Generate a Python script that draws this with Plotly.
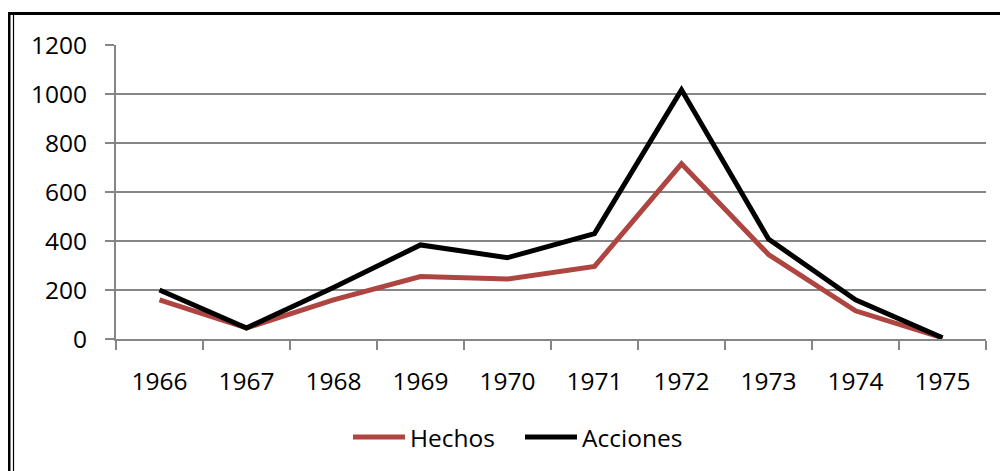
import plotly.graph_objects as go

years = ["1966", "1967", "1968", "1969", "1970", "1971", "1972", "1973", "1974", "1975"]
hechos = [160, 45, 160, 255, 245, 296, 715, 345, 115, 5]
acciones = [200, 45, 210, 384, 332, 430, 1017, 408, 160, 5]
y_ticks = [0, 200, 400, 600, 800, 1000, 1200]
series = [("Hechos", hechos, "#AE4541"), ("Acciones", acciones, "#000000")]

# page has an 8px body margin; figure coords = page coords - 8
OFF = 8
W, H = 1008, 471
L, R, T, B = 116 - OFF, 1008 - 986 + OFF, 45 - OFF, 471 - 339 + OFF
pw, ph = W - L - R, H - T - B

def px_x(p):
    return (p - OFF - L) / pw

def px_y(p):
    return (H - B - (p - OFF)) / ph

fig = go.Figure()
for name, vals, col in series:
    fig.add_trace(go.Scatter(x=years, y=vals, name=name, mode="lines",
                             line=dict(color=col, width=5), showlegend=False))

shapes = [
    dict(type="rect", xref="paper", yref="paper",
         x0=px_x(9), x1=px_x(1040), y0=px_y(520), y1=px_y(13.5),
         line=dict(color="#000000", width=3), fillcolor="rgba(0,0,0,0)", layer="below"),
    dict(type="line", xref="paper", yref="paper",
         x0=px_x(13.5), x1=px_x(13.5), y0=px_y(520), y1=px_y(15),
         line=dict(color="#000000", width=1.2), layer="below"),
]
annotations = []
leg_x = [351, 523]
for (name, vals, col), x0 in zip(series, leg_x):
    shapes.append(dict(type="line", xref="paper", yref="paper",
                       x0=px_x(x0 + 2), x1=px_x(x0 + 54), y0=px_y(437), y1=px_y(437),
                       line=dict(color=col, width=5)))
    annotations.append(dict(xref="paper", yref="paper", x=px_x(x0 + 57), y=px_y(437),
                            text=name, showarrow=False, xanchor="left", yanchor="middle",
                            font=dict(size=24.5, color="#000000")))

fig.update_layout(
    width=W, height=H,
    margin=dict(l=L, r=R, t=T, b=B),
    paper_bgcolor="white", plot_bgcolor="white",
    font=dict(family="Open Sans", size=24.5, color="#000000"),
    showlegend=False,
    xaxis=dict(type="category", tickson="boundaries", ticks="outside", ticklen=9,
               tickcolor="#868686", tickwidth=2, showline=True, linecolor="#868686",
               linewidth=2, showgrid=False, ticklabelstandoff=20, range=[-0.5, 9.5]),
    yaxis=dict(range=[0, 1200], tickvals=y_ticks, ticks="outside", ticklen=9,
               tickcolor="#868686", tickwidth=2, showline=True, linecolor="#868686",
               linewidth=2, showgrid=True, gridcolor="#868686", gridwidth=2,
               zeroline=False, ticklabelstandoff=13),
    shapes=shapes,
    annotations=annotations,
)

fig.write_html("out.html")
